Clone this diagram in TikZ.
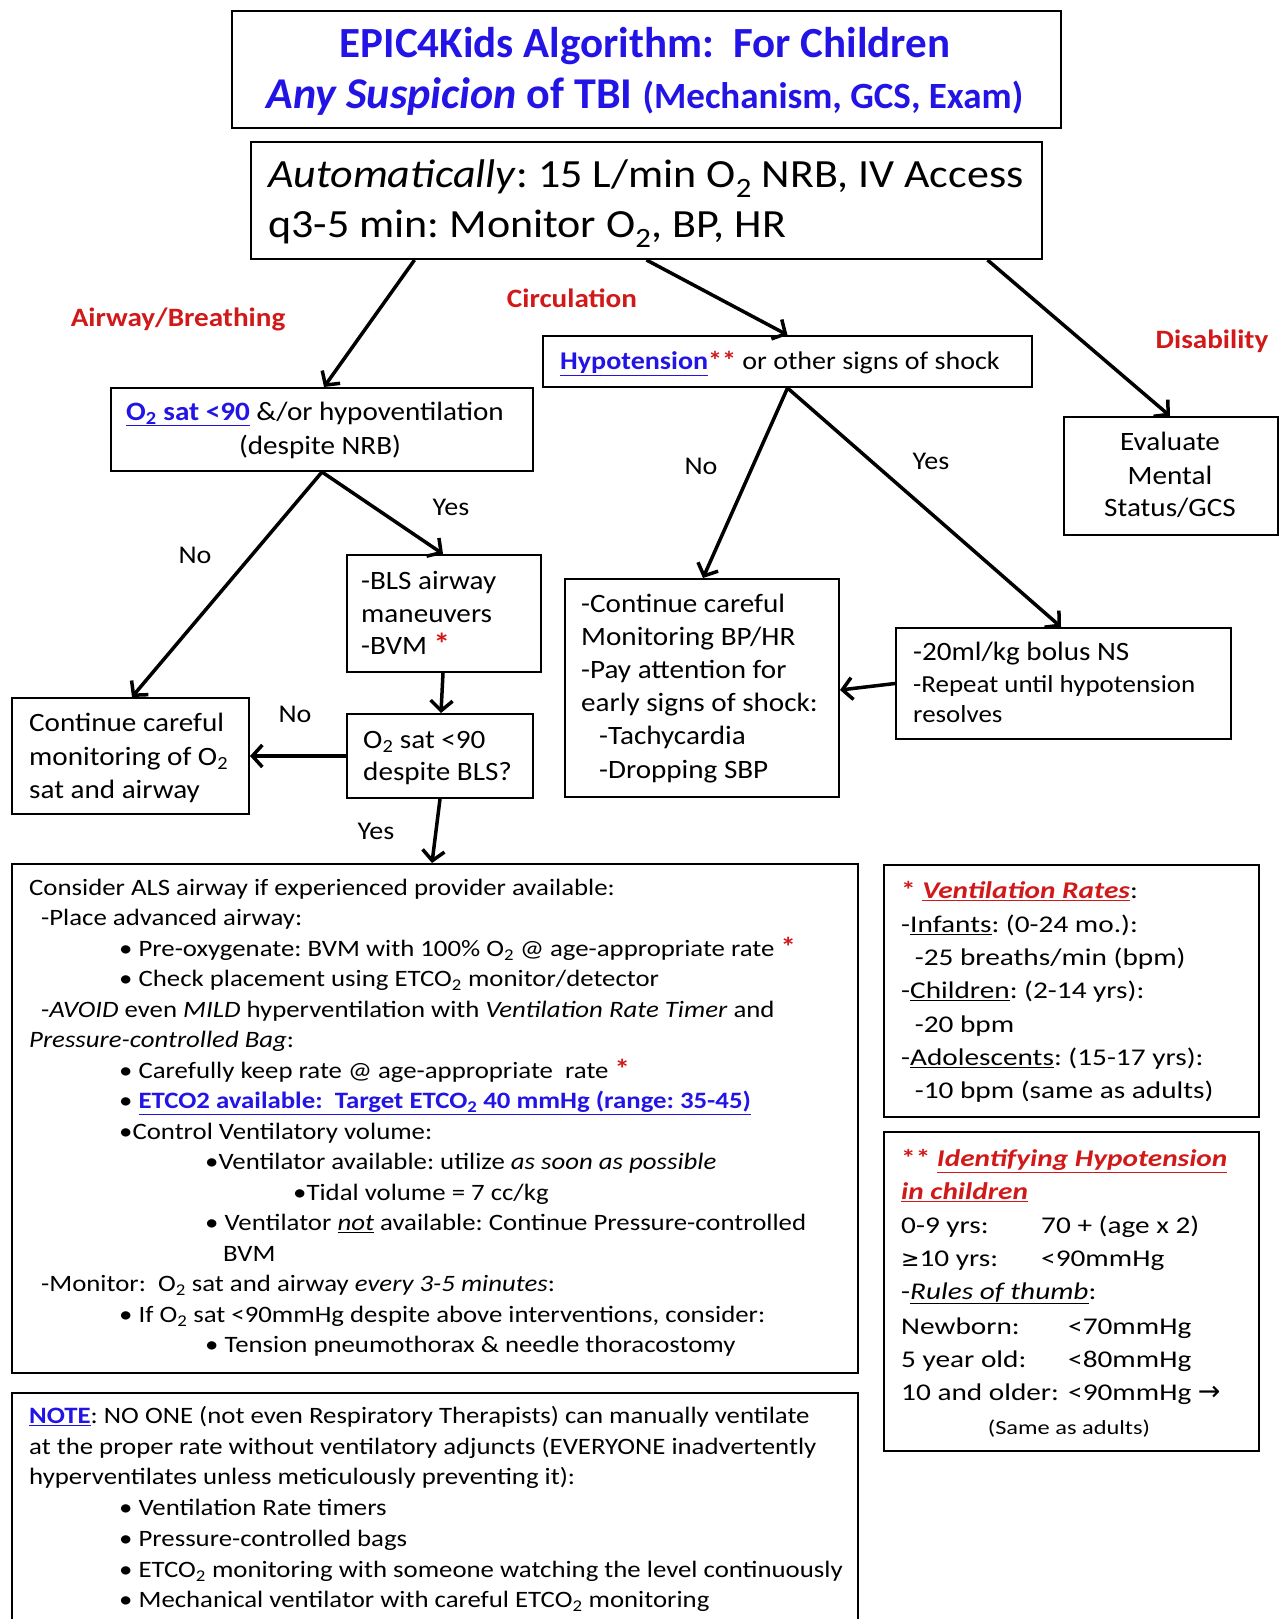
\documentclass[tikz,border=0pt]{standalone}
\usepackage{fontspec}
\setmainfont{Carlito}
\newfontfamily\boxfont[FakeStretch=1.1]{Carlito}
\newfontfamily\alsfont[FakeStretch=1.14]{Carlito}
\newfontfamily\sidefont[FakeStretch=1.22]{Carlito}
\newfontfamily\symfont{DejaVu Sans}
\usetikzlibrary{arrows.meta,calc}
\definecolor{tblue}{RGB}{35,20,230}
\definecolor{tred}{RGB}{210,25,25}
\newcommand{\myfs}[1]{\fontsize{#1}{#1}\selectfont}
\newcommand{\sub}{\textsubscript{2}}
\frenchspacing
\tikzset{
  box/.style={draw, line width=2pt, rectangle, inner sep=0pt, anchor=north west},
  lbl/.style={anchor=mid west, inner sep=0pt, yshift=-6pt},
  ctr/.style={anchor=mid, inner sep=0pt, yshift=-6pt},
  arr/.style={line width=3.5pt, -{Straight Barb[length=10pt,width=22pt]}},
  mainf/.style={font=\boxfont\myfs{26.5}},
  alsf/.style={font=\alsfont\myfs{23.5}},
  sidef/.style={font=\sidefont\myfs{24}},
  yn/.style={ctr, font=\boxfont\myfs{25.5}},
  cat/.style={ctr, font=\boxfont\myfs{26.5}\bfseries, text=tred}
}
\begin{document}
\begin{tikzpicture}[x=1pt,y=-1pt]
\useasboundingbox[fill=white] (0,0) rectangle (1278,1619);
% boxes
\node[box, minimum width=829pt, minimum height=117pt] (title) at (231,10) {};
\node[box, minimum width=791pt, minimum height=117pt] (auto) at (250,141) {};
\node[box, minimum width=422pt, minimum height=83pt] (o2) at (110,387) {};
\node[box, minimum width=489pt, minimum height=51pt] (hypo) at (542,335) {};
\node[box, minimum width=214pt, minimum height=118pt] (eval) at (1063,416) {};
\node[box, minimum width=194pt, minimum height=117pt] (bls) at (346,554) {};
\node[box, minimum width=237pt, minimum height=116pt] (cont) at (11,697) {};
\node[box, minimum width=186pt, minimum height=84pt] (desp) at (346,713) {};
\node[box, minimum width=274pt, minimum height=218pt] (cbp) at (564,578) {};
\node[box, minimum width=335pt, minimum height=111pt] (bolus) at (895,627) {};
\node[box, minimum width=846pt, minimum height=509pt] (als) at (11,863) {};
\node[box, minimum width=375pt, minimum height=252pt] (vent) at (883,864) {};
\node[box, minimum width=375pt, minimum height=319pt] (hid) at (883,1131) {};
\node[box, minimum width=846pt, minimum height=240pt] (note) at (11,1392) {};

% title
\node[ctr, yshift=-6pt, font=\myfs{43}\bfseries, text=tblue] (ti1) at (645,43) {EPIC4Kids Algorithm:\ \ For Children};
\node[ctr, yshift=-5pt, font=\myfs{44}\bfseries, text=tblue] (ti2) at (645,95) {\textit{Any Suspicion} of TBI {\myfs{37}(Mechanism, GCS, Exam)}};
% automatic
\node[lbl, yshift=-4.5pt, font=\boxfont\myfs{40}] (au1) at (268,175) {\textit{Automatically}: 15 L/min O\sub{} NRB, IV Access};
\node[lbl, yshift=-4.5pt, font=\boxfont\myfs{40}] (au2) at (268,225) {q3-5 min: Monitor O\sub{}, BP, HR};
% categories
\node[cat] (c1) at (178,318) {Airway/Breathing};
\node[cat] (c2) at (572,299) {Circulation};
\node[cat] (c3) at (1212,340) {Disability};
% o2 box
\node[ctr, mainf] (o21) at (315,412) {\textcolor{tblue}{\textbf{\underline{O\sub{} sat <90}}} \&/or hypoventilation};
\node[ctr, mainf] (o22) at (320,446) {(despite NRB)};
% hypo
\node[lbl, font=\boxfont\myfs{25.5}] (hy1) at (560,361) {\textcolor{tblue}{\textbf{\underline{Hypotension}}}\textcolor{tred}{\textbf{**}} or other signs of shock};
% eval
\node[ctr, mainf] (ev1) at (1170,442) {Evaluate};
\node[ctr, mainf] (ev2) at (1170,476) {Mental};
\node[ctr, mainf] (ev3) at (1170,508) {Status/GCS};
% bls
\node[lbl, mainf] (bl1) at (361,581) {-BLS airway};
\node[lbl, mainf] (bl2) at (361,614) {maneuvers};
\node[lbl, mainf] (bl3) at (361,646) {-BVM \textcolor{tred}{\textbf{\myfs{30}*}}};
% cont
\node[lbl, mainf] (co1) at (29,723) {Continue careful};
\node[lbl, mainf] (co2) at (29,757) {monitoring of O\sub};
\node[lbl, mainf] (co3) at (29,790) {sat and airway};
% desp
\node[lbl, mainf] (de1) at (363,740) {O\sub{} sat <90};
\node[lbl, mainf] (de2) at (363,772) {despite BLS?};
% cbp
\node[lbl, mainf] (cb1) at (581,604) {-Continue careful};
\node[lbl, mainf] (cb2) at (581,637) {Monitoring BP/HR};
\node[lbl, mainf] (cb3) at (581,670) {-Pay attention for};
\node[lbl, mainf] (cb4) at (581,703) {early signs of shock:};
\node[lbl, mainf] (cb5) at (599,736) {-Tachycardia};
\node[lbl, mainf] (cb6) at (599,770) {-Dropping SBP};
% bolus
\node[lbl, mainf] (bo1) at (913,652) {-20ml/kg bolus NS};
\node[lbl, font=\boxfont\myfs{24.5}] (bo2) at (913,684) {-Repeat until hypotension};
\node[lbl, font=\boxfont\myfs{24.5}] (bo3) at (913,714) {resolves};
% yes/no
\node[yn] (y1) at (451,507) {Yes};
\node[yn] (n1) at (195,555) {No};
\node[yn] (n2) at (295,714) {No};
\node[yn] (y2) at (376,831) {Yes};
\node[yn] (n3) at (701,466) {No};
\node[yn] (y3) at (931,461) {Yes};
% ALS box text
\node[lbl, alsf] (l0) at (29,887) {Consider ALS airway if experienced provider available:};
\node[lbl, alsf] (l1) at (41,917.5) {-Place advanced airway:};
\node[lbl, alsf] (l2) at (119,948) {\textbullet{} Pre-oxygenate: BVM with 100\% O\sub{} @ age-appropriate rate \textcolor{tred}{\textbf{\myfs{27}*}}};
\node[lbl, alsf] (l3) at (119,978.5) {\textbullet{} Check placement using ETCO\sub{} monitor/detector};
\node[lbl, alsf] (l4) at (41,1009) {-\textit{AVOID} even \textit{MILD} hyperventilation with \textit{Ventilation Rate Timer} and};
\node[lbl, alsf] (l5) at (29,1039.5) {\textit{Pressure-controlled Bag}:};
\node[lbl, alsf] (l6) at (119,1070) {\textbullet{} Carefully keep rate @ age-appropriate\ \ rate \textcolor{tred}{\textbf{\myfs{27}*}}};
\node[lbl, alsf] (l7) at (119,1100.5) {\textbullet{} \textcolor{tblue}{\textbf{\underline{ETCO2 available:\ \ Target ETCO\sub{} 40 mmHg (range: 35-45)}}}};
\node[lbl, alsf] (l8) at (119,1131) {\textbullet Control Ventilatory volume:};
\node[lbl, alsf] (l9) at (205,1161.5) {\textbullet Ventilator available: utilize \textit{as soon as possible}};
\node[lbl, alsf] (l10) at (293,1192) {\textbullet Tidal volume = 7 cc/kg};
\node[lbl, alsf] (l11) at (205,1222.5) {\textbullet{} Ventilator \underline{\textit{not}} available: Continue Pressure-controlled};
\node[lbl, alsf] (l12) at (223,1253) {BVM};
\node[lbl, alsf] (l13) at (41,1283.5) {-Monitor:\ \ O\sub{} sat and airway \textit{every 3-5 minutes}:};
\node[lbl, alsf] (l14) at (119,1314) {\textbullet{} If O\sub{} sat <90mmHg despite above interventions, consider:};
\node[lbl, alsf] (l15) at (205,1344.5) {\textbullet{} Tension pneumothorax \& needle thoracostomy};
% ventilation rates
\node[lbl, sidef] (v0) at (901,890) {\textcolor{tred}{\textbf{* \underline{\textit{Ventilation Rates}}}}:};
\node[lbl, sidef] (v1) at (901,924) {-\underline{Infants}: (0-24 mo.):};
\node[lbl, sidef] (v2) at (908,957) {\ -25 breaths/min (bpm)};
\node[lbl, sidef] (v3) at (901,990) {-\underline{Children}: (2-14 yrs):};
\node[lbl, sidef] (v4) at (908,1024) {\ -20 bpm};
\node[lbl, sidef] (v5) at (901,1057) {-\underline{Adolescents}: (15-17 yrs):};
\node[lbl, sidef] (v6) at (908,1090) {\ -10 bpm (same as adults)};
% identifying hypotension
\node[lbl, sidef] (h0) at (901,1158) {\textcolor{tred}{\textbf{** \underline{\textit{Identifying Hypotension}}}}};
\node[lbl, sidef] (h1) at (901,1191) {\textcolor{tred}{\textbf{\underline{\textit{in children}}}}};
\node[lbl, sidef] (h2) at (901,1225) {0-9 yrs:};
\node[lbl, sidef] (h2b) at (1041,1225) {70 + (age x 2)};
\node[lbl, sidef] (h3) at (901,1258) {{\symfont\myfs{22}≥}10 yrs:};
\node[lbl, sidef] (h3b) at (1041,1258) {<90mmHg};
\node[lbl, sidef] (h4) at (901,1291) {-\underline{\textit{Rules of thumb}}:};
\node[lbl, sidef] (h5) at (901,1326) {Newborn:};
\node[lbl, sidef] (h5b) at (1068,1326) {<70mmHg};
\node[lbl, sidef] (h6) at (901,1359) {5 year old:};
\node[lbl, sidef] (h6b) at (1068,1359) {<80mmHg};
\node[lbl, sidef] (h7) at (901,1392) {10 and older:};
\node[lbl, sidef] (h7b) at (1068,1392) {<90mmHg {\symfont\myfs{27}→}};
\node[ctr, font=\sidefont\myfs{20}] (h8) at (1069,1426) {(Same as adults)};
% note
\node[lbl, alsf] (nt0) at (29,1415) {\textcolor{tblue}{\textbf{\underline{NOTE}}}: NO ONE (not even Respiratory Therapists) can manually ventilate};
\node[lbl, alsf] (nt1) at (29,1446) {at the proper rate without ventilatory adjuncts (EVERYONE inadvertently};
\node[lbl, alsf] (nt2) at (29,1476) {hyperventilates unless meticulously preventing it):};
\node[lbl, alsf] (nt3) at (119,1507) {\textbullet{} Ventilation Rate timers};
\node[lbl, alsf] (nt4) at (119,1538) {\textbullet{} Pressure-controlled bags};
\node[lbl, alsf] (nt5) at (119,1569) {\textbullet{} ETCO\sub{} monitoring with someone watching the level continuously};
\node[lbl, alsf] (nt6) at (119,1599) {\textbullet{} Mechanical ventilator with careful ETCO\sub{} monitoring};

% arrows
\draw[arr] ([xshift=-232pt]auto.south) -- ([xshift=2pt]o2.north);
\draw[arr] (auto.south) -- (hypo.north);
\draw[arr] ([xshift=341pt]auto.south) -- ([xshift=-1pt]eval.north);
\draw[arr] (o2.south) -- ([xshift=-1pt]bls.north);
\draw[arr] (o2.south) -- ([xshift=1.5pt]cont.north);
\draw[arr] ([xshift=-1pt]bls.south) -- ([xshift=1pt]desp.north);
\draw[arr] (desp.west) -- (cont.east);
\draw[arr] (desp.south) -- ([xshift=-3pt]als.north);
\draw[arr] (hypo.south) -- ([xshift=1pt]cbp.north);
\draw[arr] (hypo.south) -- ([xshift=-2.5pt]bolus.north);
\draw[arr] (bolus.west) -- ([yshift=-2pt]cbp.east);
\end{tikzpicture}
\end{document}
